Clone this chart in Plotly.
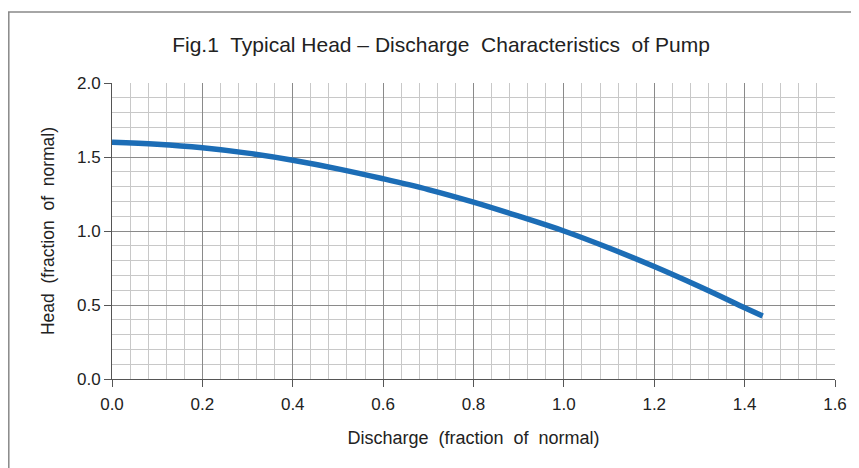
import plotly.graph_objects as go

discharge = [0.0, 0.1, 0.2, 0.3, 0.4, 0.5, 0.6, 0.7, 0.8, 0.9, 1.0, 1.1, 1.2, 1.3, 1.4, 1.44]
head = [1.600, 1.586, 1.562, 1.526, 1.478, 1.420, 1.353, 1.280, 1.195, 1.100, 1.000, 0.885, 0.760, 0.625, 0.482, 0.425]

W, H = 859, 468
# page body has an 8px offset; margins chosen so the plot area lands where the reference has it
L, R, T, B = 104, 32, 75, 97
pw, ph = W - L - R, H - T - B

FONT = "Liberation Sans, Arial, sans-serif"
TXT = "#222222"

fig = go.Figure()
fig.add_trace(go.Scatter(
    x=discharge, y=head, mode="lines",
    line=dict(color="#1c6db6", width=5.5, shape="spline"),
    showlegend=False, hoverinfo="skip"))

fig.update_layout(
    width=W, height=H,
    margin=dict(l=L, r=R, t=T, b=B),
    paper_bgcolor="white", plot_bgcolor="white",
    font=dict(family=FONT, color=TXT),
    title=dict(text="Fig.1  Typical Head – Discharge  Characteristics  of Pump",
               x=433 / W, xanchor="center", y=1 - 37 / H, yanchor="middle",
               font=dict(size=21, family=FONT, color=TXT)),
)

fig.update_xaxes(
    range=[0, 1.6], dtick=0.2, tick0=0, tickformat=".1f",
    showgrid=True, gridcolor="#8a8a8a", gridwidth=1,
    minor=dict(dtick=0.04, showgrid=True, gridcolor="#c8c8c8", gridwidth=1, ticks=""),
    ticks="outside", ticklen=7, tickcolor="#555555", ticklabelstandoff=3,
    showline=True, linecolor="#555555", linewidth=1, mirror=False,
    zeroline=False,
    tickfont=dict(size=17, family=FONT, color=TXT),
    title=dict(text="Discharge  (fraction  of  normal)", standoff=17,
               font=dict(size=18, family=FONT, color=TXT)),
)
fig.update_yaxes(
    range=[0, 2.0], dtick=0.5, tick0=0, tickformat=".1f",
    showgrid=True, gridcolor="#8a8a8a", gridwidth=1,
    minor=dict(dtick=0.1, showgrid=True, gridcolor="#c8c8c8", gridwidth=1, ticks=""),
    ticks="outside", ticklen=7, tickcolor="#555555",
    showline=True, linecolor="#555555", linewidth=1, mirror=False,
    zeroline=False,
    tickfont=dict(size=17, family=FONT, color=TXT),
    title=dict(text="Head  (fraction  of  normal)", standoff=17,
               font=dict(size=17.5, family=FONT, color=TXT)),
)

# outer frame lines (top and left) of the original image
def px_to_paper_x(px):
    return (px - L) / pw

def py_to_paper_y(py):
    return (H - B - py) / ph

fig.add_shape(type="line", xref="paper", yref="paper",
              x0=px_to_paper_x(0), x1=px_to_paper_x(W), y0=py_to_paper_y(4), y1=py_to_paper_y(4),
              line=dict(color="#888888", width=1.5))
fig.add_shape(type="line", xref="paper", yref="paper",
              x0=px_to_paper_x(0.8), x1=px_to_paper_x(0.8), y0=py_to_paper_y(4), y1=py_to_paper_y(H),
              line=dict(color="#888888", width=1.5))

fig.write_html("out.html")
